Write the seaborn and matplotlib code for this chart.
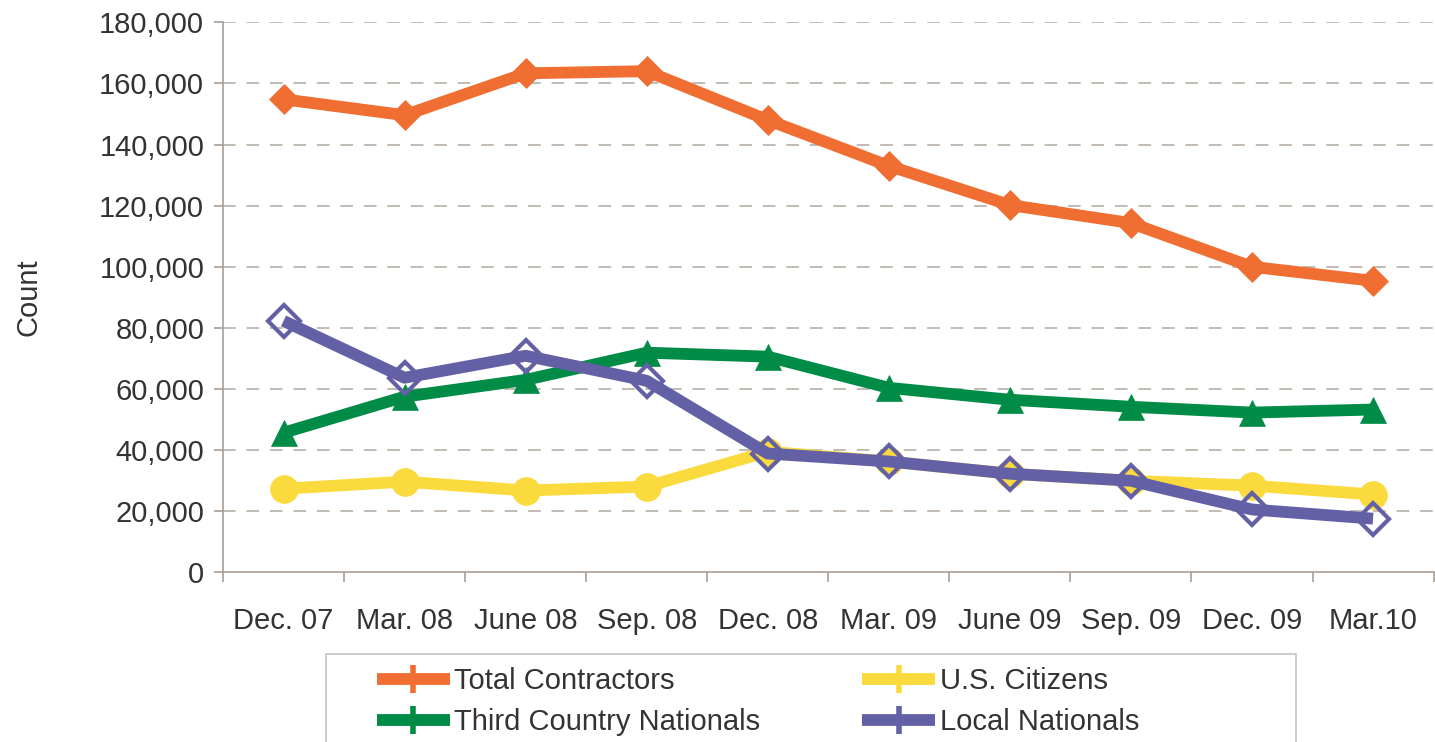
import matplotlib
matplotlib.use("Agg")
import matplotlib.pyplot as plt
from matplotlib.lines import Line2D
from matplotlib.patches import Rectangle
from matplotlib.ticker import FuncFormatter, FixedLocator
import seaborn as sns

# quarterly contractor counts
quarters = ['Dec. 07', 'Mar. 08', 'June 08', 'Sep. 08', 'Dec. 08',
            'Mar. 09', 'June 09', 'Sep. 09', 'Dec. 09', 'Mar.10']
total_contractors = [154800, 149600, 163300, 164000, 148000,
                     133000, 120200, 114300, 100000, 95400]
us_citizens = [27400, 29700, 26800, 28100, 39500,
               36300, 32300, 30000, 28400, 25500]
third_country = [45700, 57500, 63000, 71900, 70600,
                 60400, 56500, 54200, 52300, 53300]
local_nationals = [82300, 63700, 70900, 62700, 38900,
                   36300, 32300, 30000, 20600, 17600]

sns.set_style("white")
plt.rcParams['font.family'] = ['Liberation Sans', 'DejaVu Sans']
txt = '#333333'
axc = '#a8a098'

fig = plt.figure(figsize=(14.35, 7.42), dpi=100)
ax = fig.add_axes([0.1554, 0.2285, 0.8436, 0.7415])

series = [
    ('Total Contractors', total_contractors, '#F06E32', 'D', 15, 'full'),
    ('U.S. Citizens', us_citizens, '#FADA3C', 'o', 20, 'full'),
    ('Third Country Nationals', third_country, '#008C46', '^', 19, 'full'),
    ('Local Nationals', local_nationals, '#6460A5', 'D', 16, 'none'),
]
handles = {}
for name, vals, col, mk, ms, fill in series:
    sns.lineplot(x=quarters, y=vals, ax=ax, color=col, linewidth=8.5,
                 marker=mk, markersize=ms,
                 markeredgecolor=col,
                 markerfacecolor=col if fill == 'full' else 'none',
                 markeredgewidth=3 if fill == 'none' else 0.5,
                 solid_capstyle='butt', legend=False)
    handles[name] = Line2D([], [], color=col, linewidth=8.5, marker='|',
                           markersize=20, markeredgewidth=4,
                           markeredgecolor=col, solid_capstyle='butt')

ax.set_xlim(-0.5, 9.5)
ax.set_ylim(0, 180000)
ax.set_yticks(range(0, 180001, 20000))
ax.yaxis.set_major_formatter(FuncFormatter(lambda v, p: f'{int(v):,}'))
ax.xaxis.set_minor_locator(FixedLocator([i - 0.5 for i in range(11)]))

for y in range(20000, 180001, 20000):
    ax.axhline(y, color='#bdb5ad', linewidth=1.3, dashes=(7, 6), zorder=0)

for s in ['top', 'right']:
    ax.spines[s].set_visible(False)
for s in ['left', 'bottom']:
    ax.spines[s].set_color(axc)
    ax.spines[s].set_linewidth(1.2)

ax.tick_params(axis='y', which='major', length=6.5, width=1.2, color=axc,
               direction='out', left=True, pad=7, labelsize=21, labelcolor=txt)
ax.tick_params(axis='x', which='major', length=0, pad=25,
               labelsize=21, labelcolor=txt)
ax.tick_params(axis='x', which='minor', length=7, width=1.2, color=axc,
               direction='out', bottom=True)

ax.set_ylabel('Count', fontsize=21, color=txt)
ax.yaxis.set_label_coords(-0.149, 0.5)

order = ['Total Contractors', 'Third Country Nationals',
         'U.S. Citizens', 'Local Nationals']
fig.legend([handles[n] for n in order], order, ncol=2, frameon=False,
           loc='upper left', bbox_to_anchor=(0.2627, 0.1010),
           fontsize=21, labelcolor=txt, handlelength=2.5,
           handletextpad=0.15, columnspacing=3.5, labelspacing=0.45,
           borderpad=0, borderaxespad=0)

fig.patches.append(Rectangle((0.2272, -0.01), 0.676, 0.1286,
                             transform=fig.transFigure, fill=False,
                             edgecolor='#c8c4c0', linewidth=1.2))

fig.savefig('out.png', dpi=100)
